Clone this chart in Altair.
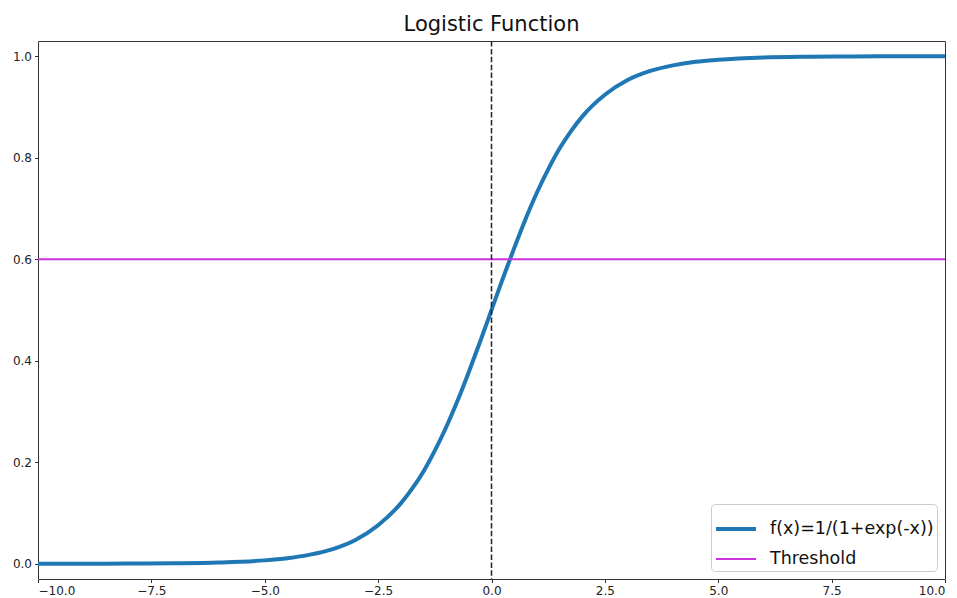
import altair as alt
import pandas as pd

# Curve values
xs = [-10, -9, -8, -7, -6, -5, -4.5, -4, -3.5, -3, -2.5, -2, -1.75, -1.5, -1.25, -1,
      -0.75, -0.5, -0.25, 0, 0.25, 0.5, 0.75, 1, 1.25, 1.5, 1.75, 2, 2.5, 3, 3.5, 4,
      4.5, 5, 6, 7, 8, 9, 10]
ys = [0.00005, 0.0001, 0.0003, 0.0009, 0.0025, 0.0067, 0.011, 0.018, 0.029, 0.047,
      0.076, 0.119, 0.148, 0.182, 0.223, 0.269, 0.321, 0.378, 0.438, 0.5, 0.562,
      0.622, 0.679, 0.731, 0.777, 0.818, 0.852, 0.881, 0.924, 0.953, 0.971, 0.982,
      0.989, 0.993, 0.9975, 0.9991, 0.9997, 0.9999, 0.99995]
series_names = ["f(x)=1/(1+exp(-x))", "Threshold"]
series_colors = ["#1f77b4", "#cc33dd"]
series_widths = [4, 1.8]
threshold = [0.6]
vline_x = [0]
x_ticks = [-10, -7.5, -5, -2.5, 0, 2.5, 5, 7.5, 10]
y_ticks = [0.0, 0.2, 0.4, 0.6, 0.8, 1.0]

curve_df = pd.DataFrame({"x": xs, "y": ys, "series": series_names[0]})
thr_df = pd.DataFrame({"y": threshold, "series": series_names[1]})
vline_df = pd.DataFrame({"x": vline_x})

legend = alt.Legend(
    title=None, orient="bottom-right", offset=8, symbolType="stroke",
    symbolSize=1600, labelFontSize=17.5, labelColor="#111", labelFont="DejaVu Sans",
    labelLimit=400, fillColor="white", strokeColor="#cccccc", cornerRadius=4,
    padding=3, rowPadding=-8, labelOffset=12,
)
color = alt.Color("series:N", scale=alt.Scale(domain=series_names, range=series_colors), legend=legend)
swidth = alt.StrokeWidth("series:N", scale=alt.Scale(domain=series_names, range=series_widths), legend=legend)

xscale = alt.Scale(domain=[-10, 10], nice=False, zero=False)
yscale = alt.Scale(domain=[-0.03, 1.03], nice=False, zero=False)
xaxis = alt.Axis(values=x_ticks, format=".1f", title=None, grid=False)
yaxis = alt.Axis(values=y_ticks, format=".1f", title=None, grid=False)

curve = alt.Chart(curve_df).mark_line(interpolate="monotone", clip=True).encode(
    x=alt.X("x:Q", scale=xscale, axis=xaxis),
    y=alt.Y("y:Q", scale=yscale, axis=yaxis),
    color=color, strokeWidth=swidth,
)
thr = alt.Chart(thr_df).mark_rule().encode(
    y=alt.Y("y:Q", scale=yscale), color=color, strokeWidth=swidth,
)
vline = alt.Chart(vline_df).mark_rule(color="#222222", strokeWidth=1.5, strokeDash=[5.5, 2.4]).encode(
    x=alt.X("x:Q", scale=xscale),
)

chart = alt.layer(curve, thr, vline).properties(
    width=907, height=538,
    title=alt.Title("Logistic Function", fontSize=21, font="DejaVu Sans", fontWeight="normal", color="#111", offset=5),
    padding={"left": 4, "top": 6, "right": 2, "bottom": 2},
).configure_view(stroke="#333333", strokeWidth=1).configure_axis(
    domain=False, tickColor="#333333", tickSize=3.5, labelFont="DejaVu Sans",
    labelFontSize=12, labelColor="#222222", labelPadding=3,
)

chart.save("out.html", embed_options={"renderer": "svg", "actions": False})
